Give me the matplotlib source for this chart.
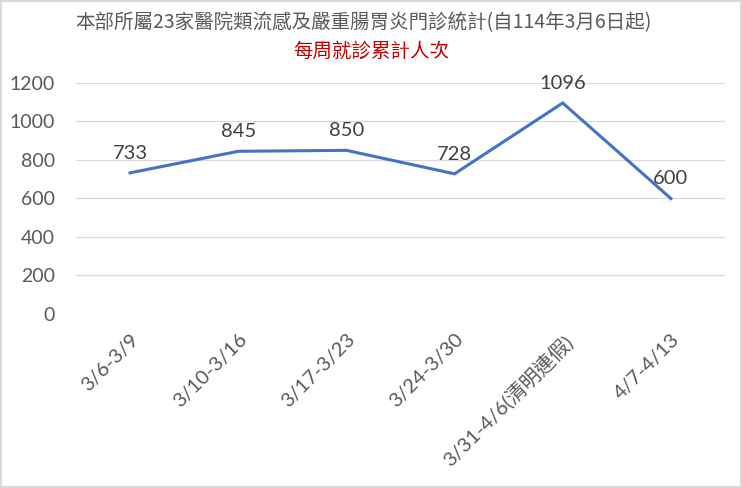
import matplotlib

matplotlib.use("Agg")
import matplotlib.pyplot as plt

# 每周就診累計人次
weeks = ["3/6-3/9", "3/10-3/16", "3/17-3/23", "3/24-3/30",
         "3/31-4/6(清明連假)", "4/7-4/13"]
visits = [733, 845, 850, 728, 1096, 600]
yticks = [0, 200, 400, 600, 800, 1000, 1200]

title = "本部所屬23家醫院類流感及嚴重腸胃炎門診統計(自114年3月6日起)"
subtitle = "每周就診累計人次"

plt.rcParams["font.family"] = ["Lato", "Noto Sans CJK TC", "DejaVu Sans"]

fig = plt.figure(figsize=(7.42, 4.88), dpi=100)
ax = fig.add_axes([0.1024, 0.3566, 0.8746, 0.4734])

x = list(range(len(weeks)))
ax.plot(x, visits, color="#4472C4", lw=2.2, solid_joinstyle="miter", zorder=3)
for xi, v in zip(x, visits):
    ax.annotate(str(v), (xi, v), xytext=(0, 8), textcoords="offset points",
                ha="center", va="bottom", fontsize=14.5, color="#404040")

ax.set_xlim(-0.5, len(weeks) - 0.5)
ax.set_ylim(0, 1200)
ax.set_yticks(yticks)
ax.set_yticklabels([str(t) for t in yticks])
ax.set_xticks(x)
ax.set_xticklabels(weeks, rotation=45, ha="right", rotation_mode="anchor")
ax.tick_params(axis="y", length=0, pad=15, labelsize=14, labelcolor="#595959")
ax.tick_params(axis="x", length=0, pad=12, labelsize=14.5, labelcolor="#595959")
ax.grid(axis="y", color="#D9D9D9", lw=0.9)
ax.set_axisbelow(True)
for s in ax.spines.values():
    s.set_visible(False)

fig.text(0.49, 0.953, title, ha="center", va="center", fontsize=14,
         color="#595959", family=["Noto Sans CJK TC", "DejaVu Sans"])
fig.text(0.501, 0.895, subtitle, ha="center", va="center", fontsize=14,
         color="#C00000", family=["Noto Sans CJK TC", "DejaVu Sans"])

fig.patches.append(plt.Rectangle((0.002, 0.002), 0.996, 0.996, fill=False,
                                 ec="#D9D9D9", lw=1.5, transform=fig.transFigure))

fig.savefig("out.png", dpi=100)
